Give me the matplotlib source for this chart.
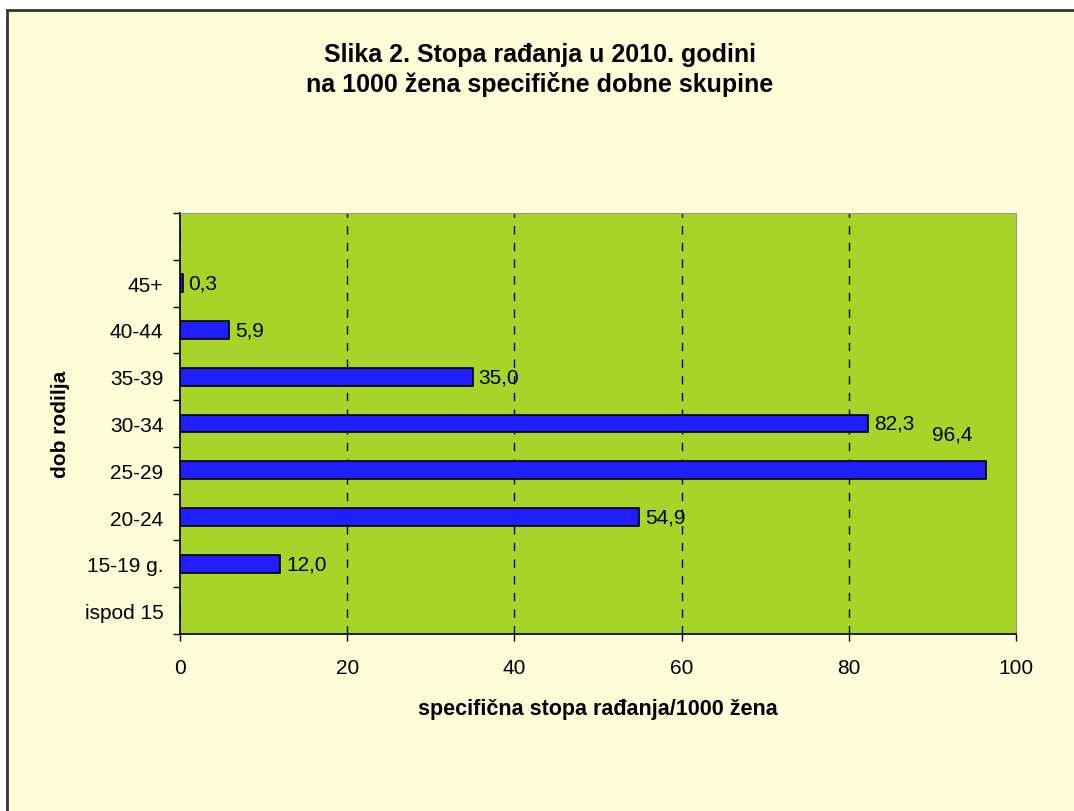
import numpy as np
import matplotlib.pyplot as plt
from matplotlib.patches import Rectangle

plt.rcParams['font.family'] = ['Liberation Sans', 'DejaVu Sans']

# data
categories = ['ispod 15', '15-19 g.', '20-24', '25-29', '30-34', '35-39', '40-44', '45+', '']
values = [np.nan, 12.0, 54.9, 96.4, 82.3, 35.0, 5.9, 0.3, np.nan]
labels = ['', '12,0', '54,9', '96,4', '82,3', '35,0', '5,9', '0,3', '']
xticks = [0, 20, 40, 60, 80, 100]

bg = '#FFFCD8'
plot_bg = '#A8D42A'
bar_col = '#1E1EFF'

fig = plt.figure(figsize=(10.74, 8.12), dpi=100, facecolor='white')
# outer chart frame
fig.patches.append(Rectangle((7 / 1074, -0.05), 1.1, 0.05 + 1 - 11 / 812,
                             transform=fig.transFigure, facecolor=bg,
                             edgecolor='#333333', linewidth=2, zorder=-1))

ax = fig.add_axes([180 / 1074, 1 - 635 / 812, 836 / 1074, 421 / 812])
ax.set_facecolor(plot_bg)

y = np.arange(len(categories))
vals = np.array(values, dtype=float)
ax.barh(y, np.nan_to_num(vals), height=0.38, color=bar_col, edgecolor='black',
        linewidth=1.2, zorder=3)

for yi, v, lab in zip(y, vals, labels):
    if not lab:
        continue
    if lab == '96,4':
        # this label sits up-left of its bar end in the original
        ax.annotate(lab, (v, yi), xytext=(-34, 36), textcoords='offset pixels',
                    ha='center', va='center', fontsize=15, zorder=4)
    else:
        ax.annotate(lab, (v, yi), xytext=(6, 0), textcoords='offset pixels',
                    ha='left', va='center', fontsize=15, zorder=4)

ax.set_xlim(0, 100)
ax.set_ylim(-0.5, len(categories) - 0.5)
ax.set_xticks(xticks)
ax.set_xticklabels([str(t) for t in xticks], fontsize=15)
ax.set_yticks(y)
ax.set_yticklabels(categories, fontsize=15)
ax.set_yticks(np.arange(-0.5, len(categories), 1.0), minor=True)
ax.tick_params(axis='y', which='major', length=0, pad=12)
ax.tick_params(axis='y', which='minor', length=5, width=1, direction='out')
ax.tick_params(axis='x', which='major', length=5, width=1, direction='out', pad=12)

for gx in xticks[1:-1]:
    ax.axvline(gx, color='black', linestyle=(0, (6, 6)), linewidth=1, zorder=2)

ax.spines['left'].set_color('black')
ax.spines['bottom'].set_color('black')
ax.spines['left'].set_linewidth(1.2)
ax.spines['bottom'].set_linewidth(1.2)
ax.spines['top'].set_color('#999999')
ax.spines['right'].set_color('#999999')

ax.set_xlabel('specifična stopa rađanja/1000 žena', fontsize=15.5, fontweight='bold')
ax.xaxis.set_label_coords(0.5, (635 - 699) / 421)
ax.set_ylabel('dob rodilja', fontsize=15, fontweight='bold')
ax.yaxis.set_label_coords((70 - 180) / 836, 0.5)

fig.text(540 / 1074, 1 - 70 / 812,
         'Slika 2. Stopa rađanja u 2010. godini\nna 1000 žena specifične dobne skupine',
         ha='center', va='center', fontsize=18, fontweight='bold', linespacing=1.25)

fig.savefig('out.png', dpi=100, facecolor=fig.get_facecolor())
